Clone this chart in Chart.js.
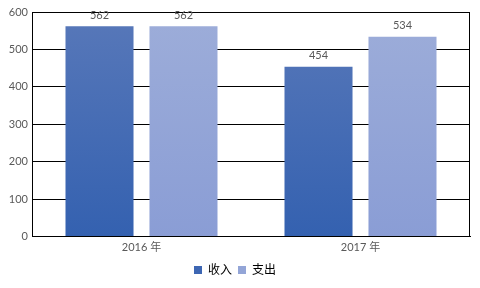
<!DOCTYPE html>
<html><head><meta charset="utf-8">
<script src="https://cdn.jsdelivr.net/npm/chart.js@4"></script>
<style>html,body{margin:0;padding:0;background:#fff}#w{width:480px;height:288px}</style>
</head><body><div id="w"><canvas id="c"></canvas></div>
<script>
const categories = ['2016 年', '2017 年'];
const income = [562, 454];
const expense = [562, 534];
const seriesNames = ['收入', '支出'];
const yTicks = [0, 100, 200, 300, 400, 500, 600];

const FONT = 'Lato, "Noto Sans CJK SC", sans-serif';
function grad(ctx, top, bottom) {
  const c = ctx.chart; const a = c.chartArea;
  if (!a) return bottom;
  const g = c.ctx.createLinearGradient(0, a.top, 0, a.bottom);
  g.addColorStop(0, top); g.addColorStop(1, bottom);
  return g;
}
const frame = {
  id: 'frame',
  afterDraw(chart) {
    const {ctx, chartArea: a} = chart;
    ctx.save(); ctx.strokeStyle = '#000'; ctx.lineWidth = 1;
    ctx.strokeRect(Math.round(a.left) + 0.5, Math.round(a.top) + 0.5, Math.round(a.right - a.left) - 1, Math.round(a.bottom - a.top) - 1);
    ctx.restore();
    ctx.save();
    ctx.font = '11px ' + FONT; ctx.fillStyle = '#595959';
    ctx.textAlign = 'center'; ctx.textBaseline = 'middle';
    chart.data.datasets.forEach((ds, i) => {
      chart.getDatasetMeta(i).data.forEach((bar, j) => {
        ctx.fillText(String(ds.data[j]), bar.x, bar.y - 11);
      });
    });
    ctx.restore();
  }
};
new Chart(document.getElementById('c'), {
  type: 'bar',
  data: {
    labels: categories,
    datasets: [
      { label: seriesNames[0], data: income, backgroundColor: c => grad(c, '#5878b9', '#3461b0'), categoryPercentage: 0.767, barPercentage: 0.81 },
      { label: seriesNames[1], data: expense, backgroundColor: c => grad(c, '#9dadd9', '#8a9dd5'), categoryPercentage: 0.767, barPercentage: 0.81 }
    ]
  },
  options: {
    responsive: true, maintainAspectRatio: false, animation: false,
    layout: { padding: { top: 12, right: 10, left: 0, bottom: 2 } },
    plugins: {
      legend: { position: 'bottom', labels: { boxWidth: 8, boxHeight: 8, padding: 6, color: '#595959', font: { size: 12, family: FONT }, generateLabels: ch => ch.data.datasets.map((d, i) => ({ text: d.label, fillStyle: i === 0 ? '#3d66b3' : '#93a5d7', strokeStyle: 'transparent', lineWidth: 0, datasetIndex: i })) } },
      tooltip: { enabled: false }
    },
    scales: {
      x: { grid: { display: false, drawTicks: false }, border: { color: '#000', width: 1 }, ticks: { color: '#595959', font: { size: 11, family: FONT }, padding: 4 } },
      y: { min: 0, max: 600, afterBuildTicks: ax => { ax.ticks = yTicks.map(v => ({ value: v })); }, afterFit: ax => { ax.width = 32; },
           grid: { color: '#000', drawTicks: false }, border: { color: '#000' },
           ticks: { color: '#595959', font: { size: 11, family: FONT }, padding: 4 } }
    }
  },
  plugins: [frame]
});
</script></body></html>
